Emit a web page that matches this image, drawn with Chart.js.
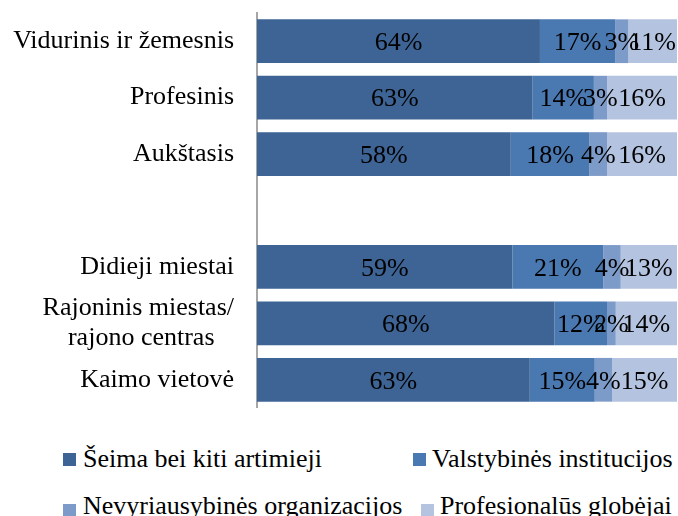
<!DOCTYPE html>
<html>
<head>
<meta charset="utf-8">
<script src="https://cdn.jsdelivr.net/npm/chart.js@4/dist/chart.umd.min.js"></script>
<style>
  body { margin: 0; background: #fff; }
  #wrap { position: relative; width: 678px; height: 516px; overflow: hidden; font-family: "Liberation Serif", "Times New Roman", serif; }
  #chartBox { position: absolute; left: 0; top: 0; width: 678px; height: 408px; }
  .lg { position: absolute; font-size: 26px; line-height: 30px; color: #000; white-space: nowrap; }
  .sw { position: absolute; width: 13px; height: 13px; }
</style>
</head>
<body>
<div id="wrap">
  <div id="chartBox"><canvas id="chart_edu"></canvas></div>
  <div id="legend"></div>
</div>
<script>
// categories (empty one is the gap between the two groups)
const categories = [
  "Vidurinis ir žemesnis",
  "Profesinis",
  "Aukštasis",
  "",
  "Didieji miestai",
  ["Rajoninis miestas/", "rajono centras   "],
  "Kaimo vietovė"
];
const seriesNames = [
  "Šeima bei kiti artimieji",
  "Valstybinės institucijos",
  "Nevyriausybinės organizacijos",
  "Profesionalūs globėjai"
];
// percentages as printed on the bars
const seima = [64, 63, 58, null, 59, 68, 63];
const valstybines = [17, 14, 18, null, 21, 12, 15];
const nevyriausybines = [3, 3, 4, null, 4, 2, 4];
const profesionalus = [11, 16, 16, null, 13, 14, 15];
const colors = ["#3d6494", "#4a78b0", "#7d9bc8", "#b4c3df"];

const raw = [seima, valstybines, nevyriausybines, profesionalus];

// bars are drawn as 100% stacked, so each row is scaled to its total
const totals = categories.map((c, i) =>
  raw.reduce((s, arr) => s + (arr[i] == null ? 0 : arr[i]), 0)
);
const shares = raw.map((arr) =>
  arr.map((v, i) => (v == null ? null : (v / totals[i]) * 100))
);

const FONT = "'Liberation Serif', 'Times New Roman', serif";

// simple inline data label plugin (no datalabels plugin available offline)
const barLabels = {
  id: "barLabels",
  afterDatasetsDraw(chart) {
    const ctx = chart.ctx;
    ctx.save();
    ctx.font = "26px " + FONT;
    ctx.fillStyle = "#000";
    ctx.textAlign = "center";
    ctx.textBaseline = "middle";
    chart.data.datasets.forEach((ds, di) => {
      const meta = chart.getDatasetMeta(di);
      meta.data.forEach((bar, i) => {
        const v = raw[di][i];
        if (v == null) return;
        const p = bar.getProps(["x", "y", "base"], true);
        ctx.fillText(v + "%", (p.x + p.base) / 2, p.y + 2);
      });
    });
    ctx.restore();
  },
};

const ctxEdu = document.getElementById("chart_edu").getContext("2d");
const myChartEdu = new Chart(ctxEdu, {
  type: "bar",
  data: {
    labels: categories,
    datasets: seriesNames.map((name, i) => ({
      label: name,
      data: shares[i],
      backgroundColor: colors[i],
      borderWidth: 0,
      barPercentage: 0.775,
      categoryPercentage: 1,
    })),
  },
  options: {
    indexAxis: "y",
    animation: false,
    responsive: true,
    maintainAspectRatio: false,
    layout: {
      padding: { top: 13, right: 1, bottom: 0, left: 0 },
    },
    plugins: {
      legend: { display: false },
      tooltip: { enabled: false },
    },
    scales: {
      x: {
        display: false,
        stacked: true,
        min: 0,
        max: 100,
      },
      y: {
        stacked: true,
        grid: { display: false, drawTicks: false },
        border: { display: true, color: "#a6a6a6", width: 2 },
        ticks: {
          color: "#000",
          padding: 23,
          autoSkip: false,
          font: { family: FONT, size: 26, lineHeight: 1.15 },
        },
        afterFit: function (scale) {
          scale.width = 257;
          scale.paddingTop = 0;
          scale.paddingBottom = 0;
        },
      },
    },
  },
  plugins: [barLabels],
});

// legend laid out like the original (two rows, two columns)
const legendPos = [
  { box: [63, 453], text: [83, 444] },
  { box: [413, 453], text: [432, 444] },
  { box: [63, 504], text: [83, 491] },
  { box: [421, 504], text: [440, 491] },
];
const legendEl = document.getElementById("legend");
seriesNames.forEach((name, i) => {
  const sw = document.createElement("div");
  sw.className = "sw";
  sw.style.left = legendPos[i].box[0] + "px";
  sw.style.top = legendPos[i].box[1] + "px";
  sw.style.background = colors[i];
  legendEl.appendChild(sw);
  const t = document.createElement("div");
  t.className = "lg";
  t.style.left = legendPos[i].text[0] + "px";
  t.style.top = legendPos[i].text[1] + "px";
  t.textContent = name;
  legendEl.appendChild(t);
});
</script>
</body>
</html>
